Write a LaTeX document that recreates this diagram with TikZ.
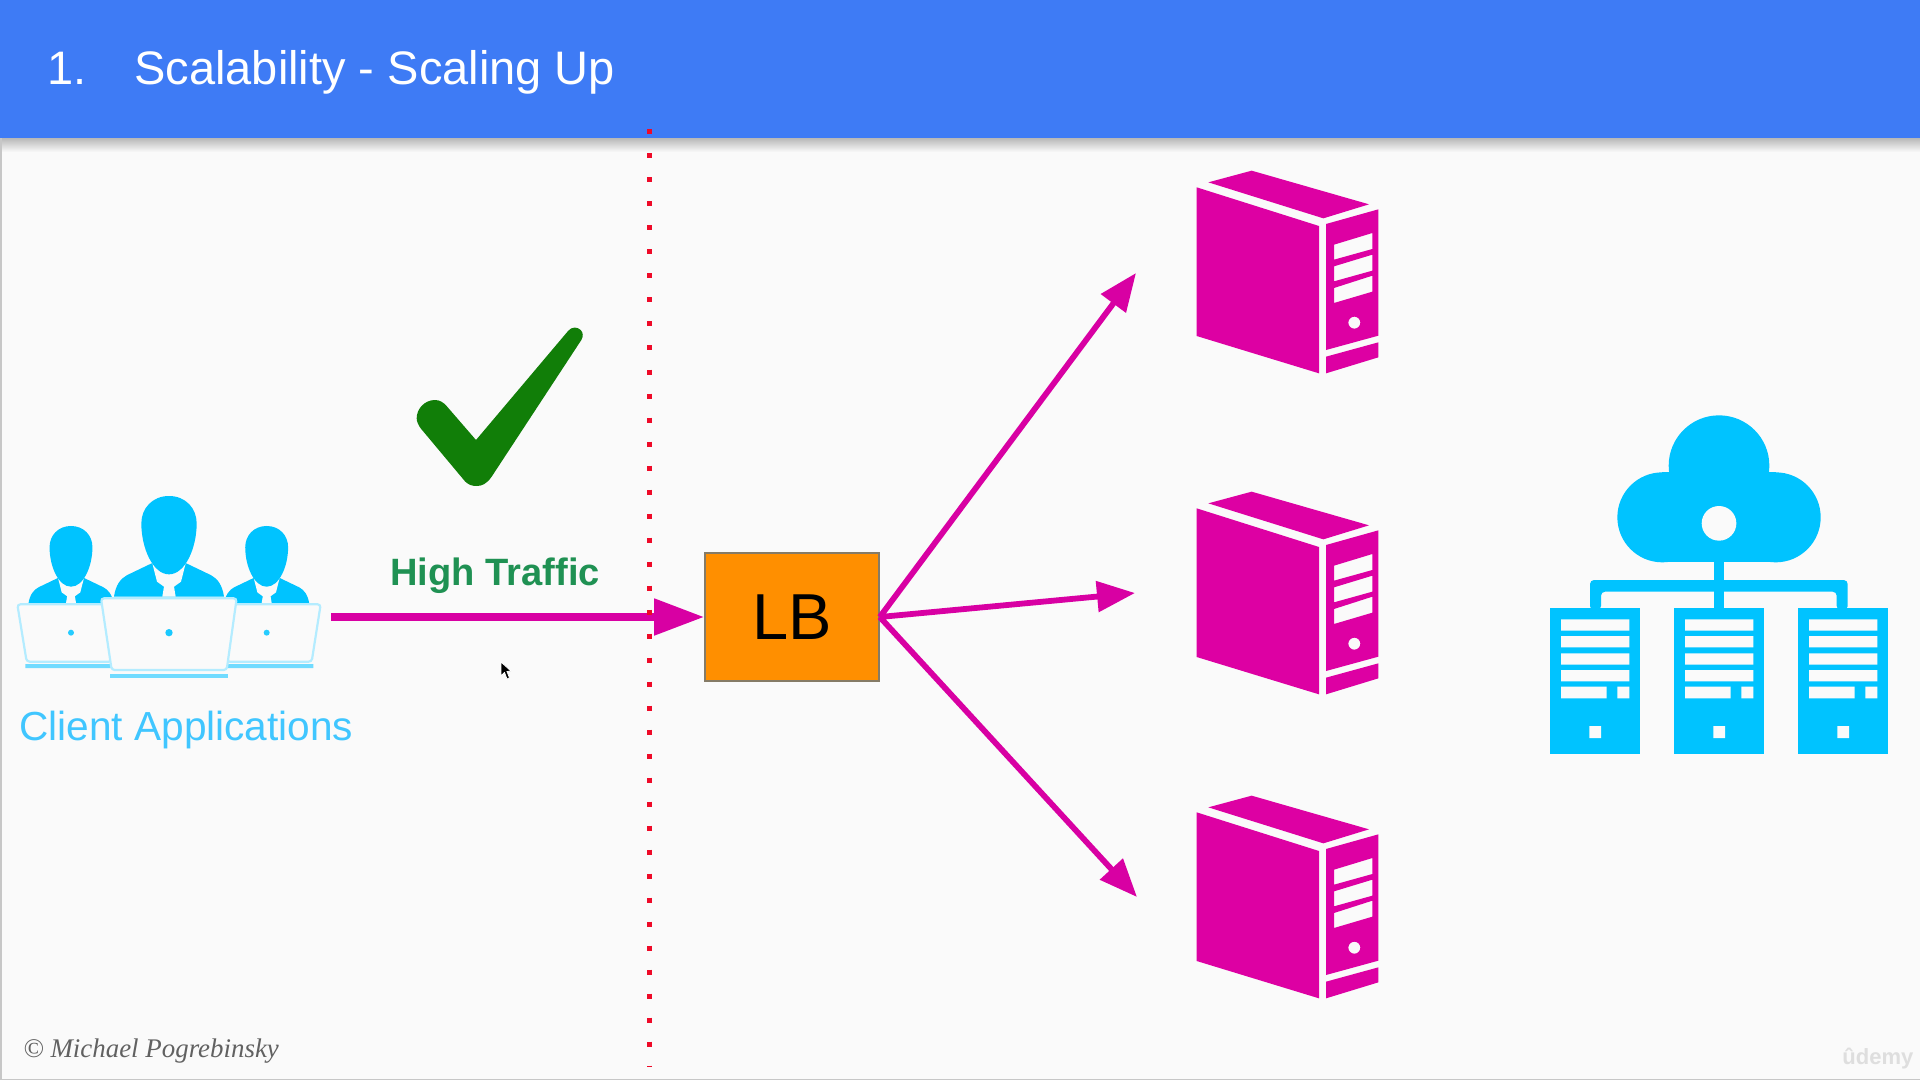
\documentclass[tikz,border=0pt]{standalone}
\usepackage{fontspec}
\setmainfont{Liberation Sans}
\newfontfamily\serifital{Liberation Serif}
\usetikzlibrary{arrows.meta}
\definecolor{bgc}{HTML}{FAFAFA}
\definecolor{headc}{HTML}{3E7BF5}
\definecolor{magc}{HTML}{DD00A3}
\definecolor{linec}{HTML}{D800A3}
\definecolor{cyanc}{HTML}{00C3FF}
\definecolor{cyanl}{HTML}{B4ECFF}
\definecolor{cyanm}{HTML}{70DBFF}
\definecolor{redc}{HTML}{EE0A28}
\definecolor{orangec}{HTML}{FF8F00}
\definecolor{greenc}{HTML}{117E08}
\definecolor{greent}{HTML}{1F9153}
\definecolor{clientc}{HTML}{40C6FF}
\definecolor{lbline}{HTML}{857B66}
\tikzset{
  flowmain/.style={draw=linec,line width=4pt,-{Triangle[length=25pt,width=17.5pt]}},
  flowfan/.style={draw=linec,line width=2.9pt,-{Triangle[length=19pt,width=15pt]}},
  laptop/.style={fill=bgc,draw=cyanl,line width=1.1pt,rounded corners=1.5pt},
  labeltext/.style={inner sep=0pt,anchor=base west}
}
\newcommand{\serverglyph}[2]{%
\begin{scope}[shift={(#1,#2)},x=.16667pt,y=-.16667pt]
  \fill[magc] (115,97)--(245,62)--(597,163)--(460,205)--cycle;
  \fill[magc] (80,112)--(447,228)--(447,670)--(80,558)--cycle;
  \fill[magc,even odd rule] (468,222)--(625,178)--(625,557)--(468,600)--cycle
     (492,284)--(607,249)--(607,297)--(492,329)--cycle
     (492,349)--(607,314)--(607,362)--(492,394)--cycle
     (492,414)--(607,377)--(607,425)--(492,459)--cycle
     (553,518) circle (18);
  \fill[magc] (468,620)--(625,577)--(625,622)--(468,670)--cycle;
\end{scope}}
\newcommand{\towerglyph}[1]{%
\begin{scope}[shift={(#1,0)}]
  \fill[cyanc] (60,625) rectangle (330,1062);
  \fill[bgc] (93,658) rectangle (298,692) (93,708) rectangle (298,742)
     (93,760) rectangle (298,794) (93,810) rectangle (298,844)
     (93,860) rectangle (230,895) (262,860) rectangle (298,895)
     (178,978) rectangle (213,1014);
\end{scope}}
\newcommand{\personglyph}{%
  \fill[cyanc] (-165,380) .. controls (-160,345) and (-145,325) .. (-125,315) -- (-52,280) -- (52,280) -- (125,315) .. controls (145,325) and (160,345) .. (165,380) -- cycle;
  \fill[bgc] (-50,280) -- (-36,335) -- (-15,350) -- (-20,380) -- (20,380) -- (15,350) -- (36,335) -- (50,280) -- cycle;
  \fill[cyanc] (0,78) .. controls (50,78) and (83,115) .. (83,160) .. controls (83,235) and (48,313) .. (0,313) .. controls (-48,313) and (-83,235) .. (-83,160) .. controls (-83,115) and (-50,78) .. (0,78) -- cycle;
}
\begin{document}
\begin{tikzpicture}[x=.5pt,y=-.5pt]
\useasboundingbox (0,0) rectangle (1920,1080);
\fill[bgc] (0,0) rectangle (1920,1080);
% header
\shade[top color=black!28,bottom color=bgc] (0,138) rectangle (1920,152);
\fill[black!22] (0,138) rectangle (1.5,1080);
\fill[black!22] (0,1078.5) rectangle (1920,1080);
\fill[headc] (0,0) rectangle (1920,138);
\node[labeltext,text=white,font=\fontsize{23.5pt}{28pt}\selectfont] (num) at (47,85) {1.};
\node[labeltext,text=white,font=\fontsize{23.5pt}{28pt}\selectfont] (title) at (134,85) {Scalability - Scaling Up};
% clients
\begin{scope}[shift={(0,470)},x=.16667pt,y=-.16667pt]
  \begin{scope}[shift={(213,107.5)},scale=.775] \personglyph \end{scope}
  \begin{scope}[shift={(800,107.5)},scale=.775] \personglyph \end{scope}
  \draw[laptop] (52,403)--(330,403)--(335,575)--(80,575)--cycle;
  \draw[laptop] (690,403)--(962,403)--(935,575)--(680,575)--cycle;
  \fill[cyanm] (76,582) rectangle (335,594) (680,582) rectangle (940,594);
  \fill[cyanc!85] (213,488) circle (9) (800,488) circle (9);
  \begin{scope}[shift={(507,0)}] \personglyph \end{scope}
  \draw[laptop] (303,385)--(710,385)--(680,600)--(335,600)--cycle;
  \fill[cyanm] (330,611) rectangle (685,623);
  \fill[cyanc!90] (507,488) circle (11);
\end{scope}
\coordinate (clients) at (331,617);
\node[labeltext,text=clientc,font=\fontsize{20.3pt}{24pt}\selectfont] (clientlabel) at (19,740) {Client Applications};
% check
\begin{scope}[shift={(380,310)},x=.16667pt,y=-.16667pt]
  \fill[greenc] (110,325) .. controls (110,295) and (135,270) .. (165,270) .. controls (180,270) and (190,278) .. (198,286) -- (288,390) -- (565,62) .. controls (575,50) and (592,50) .. (602,60) .. controls (610,68) and (610,80) .. (604,90) -- (335,500) .. controls (320,522) and (305,528) .. (290,528) .. controls (275,528) and (265,524) .. (255,514) -- (122,355) .. controls (115,345) and (110,335) .. (110,325) -- cycle;
\end{scope}
\node[labeltext,text=greent,font=\bfseries\fontsize{19.05pt}{22pt}\selectfont] (traffic) at (390,585) {High Traffic};
% LB
\node[draw=lbline,fill=orangec,line width=.8pt,minimum width=87pt,minimum height=64pt,inner sep=0pt,font=\fontsize{32.5pt}{36pt}\selectfont,text=black] (lb) at (792,617) {LB};
% connectors
\coordinate (s1) at (1136,273);
\coordinate (s2) at (1135,593);
\coordinate (s3) at (1137,897);
\draw[flowmain] (clients) -- (lb.west);
\draw[flowfan] (lb.east) -- (s1);
\draw[flowfan] (lb.east) -- (s2);
\draw[flowfan] (lb.east) -- (s3);
% boundary
\coordinate (boundtop) at (649,129.5);
\coordinate (boundbot) at (649,1066);
\draw[redc,line width=2.5pt,dash pattern=on 2.5pt off 9.5pt] (boundtop) -- (boundbot);
% servers
\serverglyph{1170}{150}
\serverglyph{1170}{471}
\serverglyph{1170}{775}
% cloud
\begin{scope}[shift={(1530,400)},x=.16667pt,y=-.16667pt]
  \fill[cyanc] (567,197) circle (151);
  \fill[cyanc] (397,352) circle (135);
  \fill[cyanc] (737,352) circle (135);
  \fill[cyanc] (397,217) rectangle (737,487);
  \fill[bgc] (567,370) circle (52);
  \fill[cyanc] (552,480) rectangle (583,630);
  \fill[cyanc,rounded corners=2pt] (180,630) -- (180,540) -- (953,540) -- (953,630) -- (920,630) -- (920,575) -- (213,575) -- (213,630) -- cycle;
  \towerglyph{0}
  \towerglyph{372}
  \towerglyph{744}
\end{scope}
% footer
\node[labeltext,text=black!62,font=\serifital\itshape\fontsize{13.45pt}{16pt}\selectfont] (copy) at (23,1057) {© Michael Pogrebinsky};
\node[labeltext,text=black!13,font=\bfseries\fontsize{11pt}{13pt}\selectfont] (brand) at (1842,1064) {ûdemy};
% cursor
\fill[black,draw=white,line width=.4pt] (501,662)--(501,676)--(504.5,672.5)--(507,679)--(509.5,678)--(507,671.5)--(511,671)--cycle;
\end{tikzpicture}
\end{document}
